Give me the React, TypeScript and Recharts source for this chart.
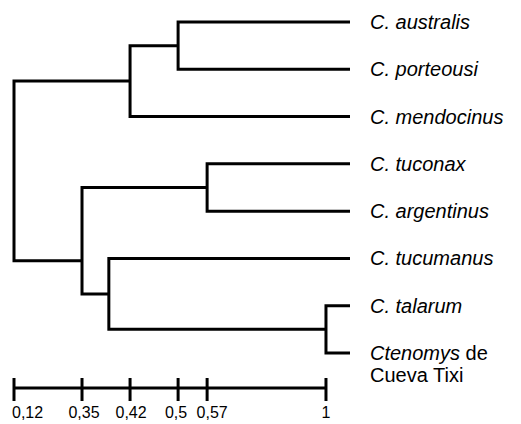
import React from 'react';
import { LineChart, Line, XAxis, YAxis } from 'recharts';

// Leaves (top to bottom)
const leafNames = ['C. australis', 'C. porteousi', 'C. mendocinus', 'C. tuconax', 'C. argentinus', 'C. tucumanus', 'C. talarum', 'Ctenomys de Cueva Tixi'];
const leafRows = [0, 1, 2, 3, 4, 5, 6, 7];
const tipPosition = 1.077;

// Scale bar (similarity values and their positions along the bar)
const scaleLabels = ['0,12', '0,35', '0,42', '0,5', '0,57', '1'];
const scalePositions = [0, 0.218, 0.372, 0.526, 0.619, 1];
const scaleRow = 7.74;

// Internal clusters
const clusterIds = ['A', 'B', 'C', 'D', 'E', 'F', 'R'];
const clusterPositions = [0.526, 0.372, 0.619, 1, 0.304, 0.218, 0];
const clusterRows = [0.5, 1.25, 3.5, 6.5, 5.75, 5.05, 3.15];
const clusterChildren: [string, string][] = [
  ['L0', 'L1'],
  ['A', 'L2'],
  ['L3', 'L4'],
  ['L6', 'L7'],
  ['L5', 'D'],
  ['C', 'E'],
  ['B', 'F'],
];

const FONT = '"Liberation Sans", Arial, sans-serif';
// small horizontal nudges of the scale labels (layout only)
const labelNudge = [-2, 2, 1, -2, 5, 0];

function nodeXY(id: string): { x: number; y: number } {
  if (id.startsWith('L')) {
    const i = Number(id.slice(1));
    return { x: tipPosition, y: leafRows[i] };
  }
  const k = clusterIds.indexOf(id);
  return { x: clusterPositions[k], y: clusterRows[k] };
}

const links = clusterIds.map((id, k) => {
  const a = nodeXY(clusterChildren[k][0]);
  const b = nodeXY(clusterChildren[k][1]);
  const p = clusterPositions[k];
  return {
    id,
    data: [
      { x: a.x, y: a.y },
      { x: p, y: a.y },
      { x: p, y: b.y },
      { x: b.x, y: b.y },
    ],
  };
});

const scaleBar = [
  { x: scalePositions[0], y: scaleRow },
  { x: scalePositions[scalePositions.length - 1], y: scaleRow },
];

const ScaleTick = (props: any) => {
  const { x, y, payload } = props;
  const i = scalePositions.indexOf(payload.value);
  const label = scaleLabels[i] ?? '';
  const first = i === 0;
  return (
    <g>
      <line x1={x} x2={x} y1={y - 10} y2={y + 13} stroke="#000" strokeWidth={3} />
      <text
        x={x + (labelNudge[i] ?? 0)}
        y={y + 30}
        textAnchor={first ? 'start' : 'middle'}
        fontFamily={FONT}
        fontSize={16}
        fill="#000"
      >
        {label}
      </text>
    </g>
  );
};

const LeafTick = (props: any) => {
  const { x, y, payload } = props;
  const name = leafNames[payload.value] ?? '';
  if (name.startsWith('Ctenomys')) {
    return (
      <text x={x} y={y} fontFamily={FONT} fontSize={20} fill="#000" textAnchor="start">
        <tspan x={x} dy="0.33em" fontStyle="italic">Ctenomys</tspan>
        <tspan> de</tspan>
        <tspan x={x} dy={22}>Cueva Tixi</tspan>
      </text>
    );
  }
  return (
    <text x={x} y={y} dy="0.35em" fontFamily={FONT} fontSize={20} fontStyle="italic" fill="#000" textAnchor="start">
      {name}
    </text>
  );
};

export default function App() {
  return (
    <div style={{ position: 'absolute', left: 0, top: 0, background: '#fff' }}>
      <LineChart width={521} height={424} margin={{ top: 22, right: 0, bottom: 0, left: 14 }}>
        <XAxis
          type="number"
          dataKey="x"
          domain={[0, tipPosition]}
          ticks={scalePositions}
          axisLine={false}
          tickLine={false}
          tickSize={0}
          tickMargin={0}
          height={36}
          interval={0}
          tick={<ScaleTick />}
        />
        <YAxis
          type="number"
          orientation="right"
          domain={[0, scaleRow]}
          reversed
          ticks={leafRows}
          axisLine={false}
          tickLine={false}
          tickSize={0}
          tickMargin={20}
          width={171}
          interval={0}
          tick={<LeafTick />}
        />
        {links.map((l) => (
          <Line
            key={l.id}
            data={l.data}
            dataKey="y"
            type="linear"
            stroke="#000"
            strokeWidth={3}
            strokeLinejoin="miter"
            dot={false}
            activeDot={false}
            isAnimationActive={false}
          />
        ))}
        <Line
          data={scaleBar}
          dataKey="y"
          type="linear"
          stroke="#000"
          strokeWidth={3}
          dot={false}
          activeDot={false}
          isAnimationActive={false}
        />
      </LineChart>
    </div>
  );
}
